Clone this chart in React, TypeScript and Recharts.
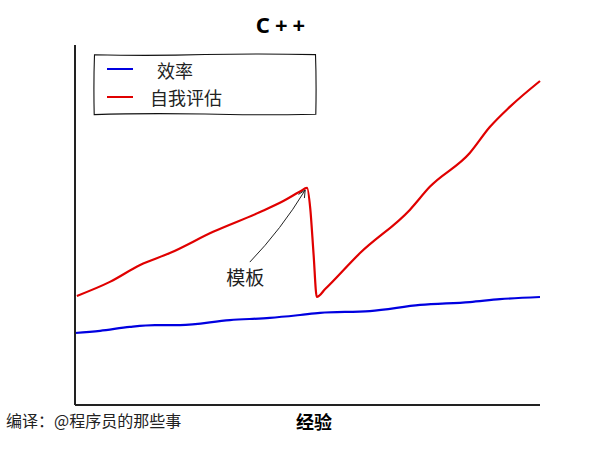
import React from 'react';
import { LineChart, Line, XAxis, YAxis, ReferenceLine, ReferenceDot, Legend } from 'recharts';

// ---- data (experience on x, 0..100; value on y, 0..100) ----
const efficiencyX = [0, 5.4, 11.8, 17.2, 22.6, 33.3, 41.9, 48.4, 52.7, 63.4, 74.2, 84.9, 91.4, 100];
const efficiencyY = [20.0, 20.6, 21.7, 22.2, 22.2, 23.6, 24.2, 25.0, 25.6, 26.1, 27.8, 28.6, 29.4, 30.0];

const selfEvalX = [0.4, 7.5, 14.0, 20.4, 29.7, 39.8, 45.0, 48.4, 49.9, 50.6, 51.3, 52.0, 53.8, 61.3, 72.0, 76.3, 84.9, 89.2, 93.5, 100];
const selfEvalY = [30.3, 34.2, 38.9, 42.2, 48.1, 53.6, 56.8, 59.3, 60.3, 54.5, 42.0, 30.0, 32.2, 42.2, 54.2, 60.6, 70.0, 77.2, 82.8, 90.0];

const seriesNames = ['效率', '自我评估'];
const seriesColors = ['#0000e0', '#e00000'];

const titleText = 'C++';
const xAxisLabel = '经验';
const creditText = '编译：@程序员的那些事';

const annotationText = '模板';
const annotationLabelAt = { x: 36.6, y: 35.3 };
const annotationFrom = { x: 37.6, y: 39.7 };
const annotationTo = { x: 49.5, y: 59.7 };

const efficiencyData = efficiencyX.map((x, i) => ({ x, y: efficiencyY[i] }));
const selfEvalData = selfEvalX.map((x, i) => ({ x, y: selfEvalY[i] }));

const CJK = '"Noto Sans CJK SC", "Noto Sans", sans-serif';

const ArrowShape = (props: any) => {
  const x1 = props.x1 ?? props.points?.[0]?.x;
  const y1 = props.y1 ?? props.points?.[0]?.y;
  const x2 = props.x2 ?? props.points?.[1]?.x;
  const y2 = props.y2 ?? props.points?.[1]?.y;
  if ([x1, y1, x2, y2].some((v) => typeof v !== 'number' || isNaN(v))) return null;
  const dx = x2 - x1;
  const dy = y2 - y1;
  const len = Math.sqrt(dx * dx + dy * dy);
  const nx = -dy / len;
  const ny = dx / len;
  const cx = (x1 + x2) / 2 + nx * 5;
  const cy = (y1 + y2) / 2 + ny * 5;
  const hx = x2 - cx;
  const hy = y2 - cy;
  const hl = Math.sqrt(hx * hx + hy * hy);
  const ux = hx / hl;
  const uy = hy / hl;
  const s = 8;
  const a = 0.45;
  const p1x = x2 - s * (ux * Math.cos(a) - uy * Math.sin(a));
  const p1y = y2 - s * (uy * Math.cos(a) + ux * Math.sin(a));
  const p2x = x2 - s * (ux * Math.cos(-a) - uy * Math.sin(-a));
  const p2y = y2 - s * (uy * Math.cos(-a) + ux * Math.sin(-a));
  return (
    <g>
      <path d={`M${x1},${y1} Q${cx},${cy} ${x2},${y2}`} fill="none" stroke="#222" strokeWidth={1} />
      <path d={`M${p1x},${p1y} L${x2},${y2} L${p2x},${p2y}`} fill="none" stroke="#222" strokeWidth={1} />
    </g>
  );
};

const LegendBox = (props: any) => {
  const payload = (props.payload || []) as any[];
  const items = seriesNames.map((name, i) => {
    const p = payload.find((q) => q.value === name);
    return { name, color: p?.color ?? seriesColors[i] };
  });
  return (
    <div style={{ position: 'relative', width: 223, height: 61 }}>
      <svg width={225} height={63} style={{ position: 'absolute', left: -1, top: -1 }}>
        <path
          d="M1.5,1.8 Q60,3 112,1.5 Q170,0.5 222.5,1.6 Q223.5,30 222.8,61.2 Q160,62.5 112,61 Q50,60 1.2,61.6 Q0.5,30 1.5,1.8 Z"
          fill="#fff"
          stroke="#111"
          strokeWidth={1.1}
        />
        {items.map((it, i) => (
          <line key={it.name} x1={14} x2={40} y1={16 + i * 28} y2={16 + i * 28} stroke={it.color} strokeWidth={2} />
        ))}
      </svg>
      <div style={{ position: 'absolute', left: 63, top: 5, fontFamily: CJK, fontSize: 18, color: '#222', lineHeight: '22px' }}>{items[0].name}</div>
      <div style={{ position: 'absolute', left: 56, top: 32, fontFamily: CJK, fontSize: 18, color: '#222', lineHeight: '22px' }}>{items[1].name}</div>
    </div>
  );
};

export default function App() {
  return (
    <div style={{ position: 'absolute', left: 0, top: 0, width: 600, height: 450, background: '#fff' }}>
      <LineChart width={600} height={450} margin={{ top: 45, right: 60, bottom: 44, left: 74 }}>
        <XAxis
          type="number"
          dataKey="x"
          domain={[0, 100]}
          height={1}
          tick={false}
          tickLine={false}
          axisLine={{ stroke: '#222', strokeWidth: 2 }}
        />
        <YAxis
          type="number"
          dataKey="y"
          domain={[0, 100]}
          width={1}
          tick={false}
          tickLine={false}
          axisLine={{ stroke: '#222', strokeWidth: 2 }}
        />
        <Legend
          content={<LegendBox />}
          layout="horizontal"
          verticalAlign="middle"
          align="center"
          wrapperStyle={{ position: 'absolute', left: 94, top: 54, width: 223, height: 61 }}
        />
        <Line
          data={efficiencyData}
          dataKey="y"
          name={seriesNames[0]}
          type="monotone"
          stroke={seriesColors[0]}
          strokeWidth={2.2}
          dot={false}
          isAnimationActive={false}
        />
        <Line
          data={selfEvalData}
          dataKey="y"
          name={seriesNames[1]}
          type="monotone"
          stroke={seriesColors[1]}
          strokeWidth={2.2}
          strokeLinejoin="round"
          dot={false}
          isAnimationActive={false}
        />
        <ReferenceLine
          segment={[annotationFrom, annotationTo]}
          shape={<ArrowShape />}
          stroke="#222"
        />
        <ReferenceDot
          x={annotationLabelAt.x}
          y={annotationLabelAt.y}
          r={0}
          fill="none"
          stroke="none"
          label={{ value: annotationText, position: 'center', fontSize: 19, fill: '#222', fontFamily: CJK }}
        />
      </LineChart>
      <div
        style={{
          position: 'absolute',
          left: 283,
          top: 24,
          transform: 'translate(-50%, -50%)',
          fontFamily: '"Noto Sans", sans-serif',
          fontWeight: 700,
          fontSize: 22,
          letterSpacing: 5,
          color: '#000',
          whiteSpace: 'nowrap',
        }}
      >
        {titleText}
      </div>
      <div
        style={{
          position: 'absolute',
          left: 314,
          top: 421,
          transform: 'translate(-50%, -50%)',
          fontFamily: CJK,
          fontWeight: 700,
          fontSize: 18,
          color: '#000',
          whiteSpace: 'nowrap',
        }}
      >
        {xAxisLabel}
      </div>
      <div
        style={{
          position: 'absolute',
          left: 6,
          top: 420,
          transform: 'translateY(-50%)',
          fontFamily: CJK,
          fontSize: 16,
          color: '#222',
          whiteSpace: 'nowrap',
        }}
      >
        {creditText}
      </div>
    </div>
  );
}
